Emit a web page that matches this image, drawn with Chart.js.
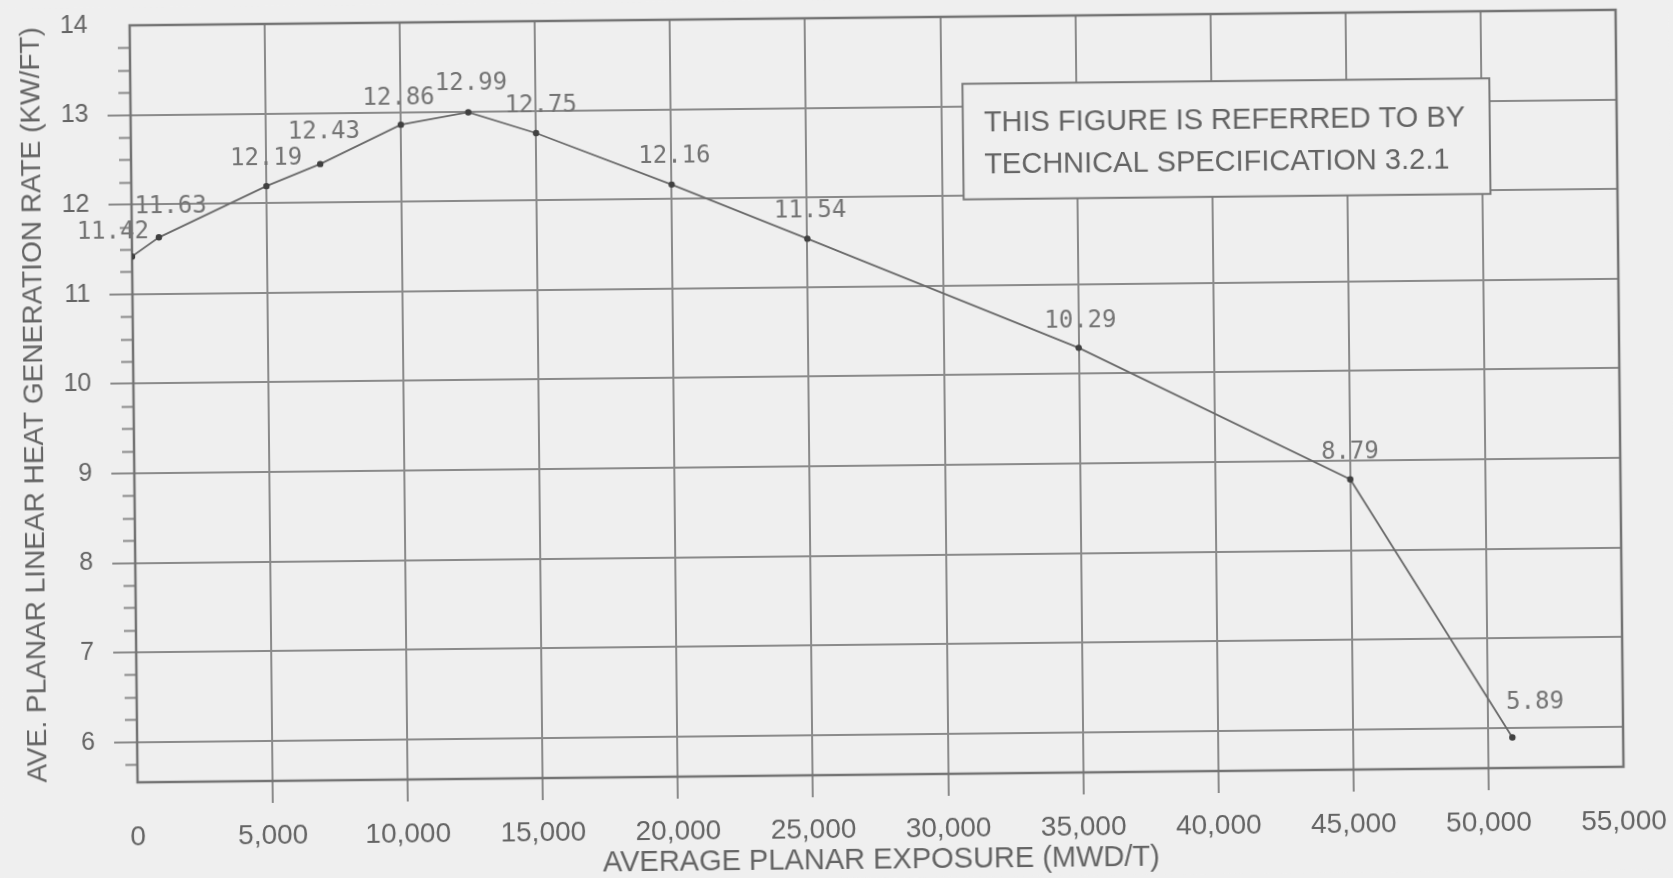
<!DOCTYPE html>
<html>
<head>
<meta charset="utf-8">
<script src="https://cdn.jsdelivr.net/npm/chart.js@4.4.1/dist/chart.umd.min.js"></script>
<style>
  html, body { margin: 0; padding: 0; background: #efefef; overflow: hidden; }
  #c { display: block; background: #efefef; transform: rotate(-0.6deg); transform-origin: 50% 50%; }
</style>
</head>
<body>
<canvas id="c" width="1673" height="878"></canvas>
<script>
// ---- data ----
const exposure = [0, 1000, 5000, 7000, 10000, 12500, 15000, 20000, 25000, 35000, 45000, 50900];
const maplhgr  = [11.42, 11.63, 12.19, 12.43, 12.86, 12.99, 12.75, 12.16, 11.54, 10.29, 8.79, 5.89];
const pointLabels = ['11.42', '11.63', '12.19', '12.43', '12.86', '12.99', '12.75', '12.16', '11.54', '10.29', '8.79', '5.89'];
const xTickValues = [0, 5000, 10000, 15000, 20000, 25000, 30000, 35000, 40000, 45000, 50000, 55000];
const yTickValues = [6, 7, 8, 9, 10, 11, 12, 13, 14];
const noteLines = ['THIS FIGURE IS REFERRED TO BY', 'TECHNICAL SPECIFICATION 3.2.1'];
const xTitle = 'AVERAGE PLANAR EXPOSURE (MWD/T)';
const yTitle = 'AVE. PLANAR LINEAR HEAT GENERATION RATE (KW/FT)';

// ---- styling ----
const TEXT = '#646464';
const GRID = '#8a8a8a';
const FRAME = '#747474';
const SANS = '"Liberation Sans", Arial, sans-serif';
const labelNudgeX = [-19, 12, 0, 4, -2, 3, 5, 3, 3, 2, 0, 23];
const labelNudgeY = [-24, -31, -27, -32, -26, -29, -27, -28, -28, -27, -27, -35];

const frameAndNote = {
  id: 'frameAndNote',
  beforeDatasetsDraw(chart) {
    const {ctx, chartArea: a, scales: {x, y}} = chart;
    ctx.save();
    // minor ticks on the y axis
    ctx.strokeStyle = GRID; ctx.lineWidth = 2;
    for (let v = Math.ceil(y.min * 4) / 4; v < y.max; v += 0.25) {
      if (Math.abs(v - Math.round(v)) < 1e-6) continue;
      const py = Math.round(y.getPixelForValue(v)) + 0.5;
      ctx.beginPath(); ctx.moveTo(a.left - 12, py); ctx.lineTo(a.left, py); ctx.stroke();
    }
    // plot frame
    ctx.strokeStyle = FRAME; ctx.lineWidth = 2.5;
    ctx.strokeRect(a.left, a.top, a.right - a.left, a.bottom - a.top);
    // note box
    const bx1 = x.getPixelForValue(30800), bx2 = x.getPixelForValue(50300);
    const by1 = y.getPixelForValue(13.25), by2 = y.getPixelForValue(11.96);
    ctx.fillStyle = '#efefef';
    ctx.fillRect(bx1, by1, bx2 - bx1, by2 - by1);
    ctx.strokeStyle = '#7a7a7a'; ctx.lineWidth = 2;
    ctx.strokeRect(bx1, by1, bx2 - bx1, by2 - by1);
    ctx.fillStyle = TEXT;
    ctx.font = '29px ' + SANS;
    ctx.textAlign = 'left'; ctx.textBaseline = 'middle';
    ctx.fillText(noteLines[0], bx1 + 21, by1 + 40);
    ctx.fillText(noteLines[1], bx1 + 21, by1 + 82);
    ctx.restore();
  },
  afterDatasetsDraw(chart) {
    const {ctx} = chart;
    const meta = chart.getDatasetMeta(0);
    ctx.save();
    ctx.fillStyle = '#747474';
    ctx.font = '24px "DejaVu Sans Mono", "Liberation Mono", monospace';
    ctx.textAlign = 'center'; ctx.textBaseline = 'middle';
    meta.data.forEach((pt, i) => {
      ctx.fillText(pointLabels[i], pt.x + labelNudgeX[i], pt.y + labelNudgeY[i]);
    });
    ctx.restore();
  }
};

new Chart(document.getElementById('c'), {
  type: 'line',
  data: {
    datasets: [{
      data: exposure.map((e, i) => ({x: e, y: maplhgr[i]})),
      borderColor: '#6a6a6a',
      borderWidth: 1.8,
      pointRadius: 3.2,
      pointBackgroundColor: '#404040',
      pointBorderColor: '#404040',
      pointBorderWidth: 0,
      tension: 0,
      fill: false
    }]
  },
  options: {
    responsive: false,
    animation: false,
    devicePixelRatio: 1,
    layout: { padding: { left: 0, right: 53, top: 18, bottom: 0 } },
    plugins: { legend: { display: false }, tooltip: { enabled: false } },
    scales: {
      x: {
        type: 'linear',
        min: 0, max: 55000,
        afterBuildTicks(s) { s.ticks = xTickValues.map(v => ({value: v})); },
        afterFit(s) { s.height = 103; s.paddingLeft = 0; s.paddingRight = 0; },
        ticks: {
          autoSkip: false, maxRotation: 0,
          padding: 16,
          color: TEXT,
          font: { family: SANS, size: 28 },
          callback: v => v.toLocaleString('en-US')
        },
        grid: {
          color: c => (c.tick && (c.tick.value === 0 || c.tick.value === 55000)) ? 'rgba(0,0,0,0)' : GRID,
          tickColor: c => (c.tick && (c.tick.value === 0 || c.tick.value === 55000)) ? 'rgba(0,0,0,0)' : GRID,
          lineWidth: 2,
          tickLength: 22
        },
        border: { display: false },
        title: {
          display: true, text: xTitle, color: TEXT,
          font: { family: SANS, size: 29 },
          padding: { top: 0, bottom: 0 }
        }
      },
      y: {
        min: 5.55, max: 14,
        afterBuildTicks(s) { s.ticks = yTickValues.map(v => ({value: v})); },
        afterFit(s) { s.width = 134; s.paddingTop = 0; s.paddingBottom = 0; },
        ticks: {
          autoSkip: false,
          padding: 19,
          color: TEXT,
          font: { family: SANS, size: 25 }
        },
        grid: {
          color: c => (c.tick && c.tick.value === 14) ? 'rgba(0,0,0,0)' : GRID,
          tickColor: c => (c.tick && c.tick.value === 14) ? 'rgba(0,0,0,0)' : GRID,
          lineWidth: 2,
          tickLength: 23
        },
        border: { display: false },
        title: {
          display: true, text: yTitle, color: TEXT,
          font: { family: SANS, size: 28 },
          padding: { top: 18, bottom: 0 }
        }
      }
    }
  },
  plugins: [frameAndNote]
});
</script>
</body>
</html>
